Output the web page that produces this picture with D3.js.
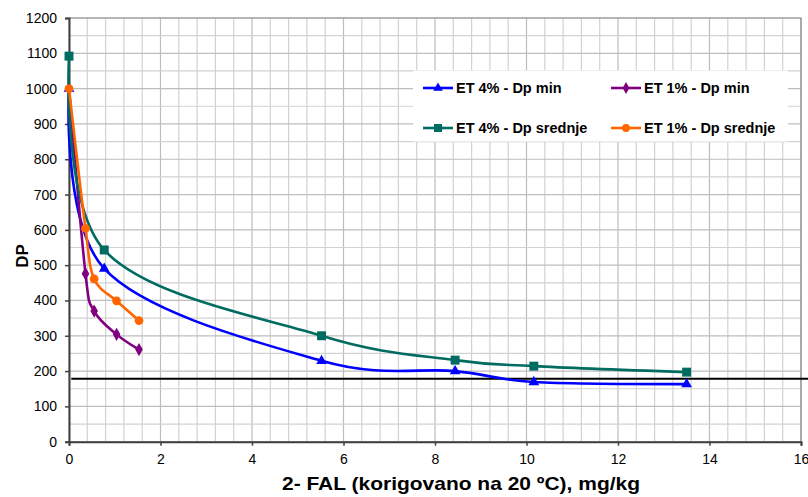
<!DOCTYPE html>
<html>
<head>
<meta charset="utf-8">
<script src="https://cdn.jsdelivr.net/npm/d3@7"></script>
<style>
  body { margin: 0; background: #fff; }
  text { font-family: "Liberation Sans", Arial, sans-serif; }
</style>
</head>
<body>
<div class="chart"></div>
<script>
// data
var xFal = [0, 0.77, 5.52, 8.44, 10.16, 13.5];
var et4Min = [1000, 490, 229, 200, 169, 163];
var et4Srednje = [1092, 543, 300, 231, 214, 197];
var xFal1 = [0, 0.36, 0.55, 1.04, 1.53];
var et1Min = [1000, 476, 370, 304, 261];
var et1Srednje = [1000, 604, 461, 399, 343];
var limitX = [0.05, 16.2];
var limitDP = 178;
var xTicks = [0, 2, 4, 6, 8, 10, 12, 14, 16];
var yTicks = [0, 100, 200, 300, 400, 500, 600, 700, 800, 900, 1000, 1100, 1200];

var series = [
  {name: "ET 4% - Dp min", x: xFal, y: et4Min, color: "#0000ff", sym: d3.symbolTriangle, size: 50},
  {name: "ET 1% - Dp min", x: xFal1, y: et1Min, color: "#800080", sym: d3.symbolDiamond, size: 50},
  {name: "ET 4% - Dp srednje", x: xFal, y: et4Srednje, color: "#006b60", sym: d3.symbolSquare, size: 80},
  {name: "ET 1% - Dp srednje", x: xFal1, y: et1Srednje, color: "#ff6600", sym: d3.symbolCircle, size: 60}
];

var width = 808, height = 497,
plotLeft = 69, plotRight = 801, plotTop = 18, plotBottom = 441.7;

var svg = d3.select(".chart").append("svg")
  .attr("width", width).attr("height", height);

var x = d3.scaleLinear().domain([0, 16]).range([plotLeft, plotRight]);
var y = d3.scaleLinear().domain([0, 1200]).range([plotBottom, plotTop]);

// grid
var g = svg.append("g");
g.selectAll(".vx").data(d3.range(0, 16.01, 0.4)).enter().append("line")
  .attr("x1", function(d){return x(d);}).attr("x2", function(d){return x(d);})
  .attr("y1", plotTop).attr("y2", plotBottom)
  .attr("stroke", function(d){return Math.abs(d/2 - Math.round(d/2)) < 1e-6 ? "#bdbdbd" : "#d2d2d2";})
  .attr("stroke-width", 1.2);
g.selectAll(".hy").data(d3.range(0, 1201, 50)).enter().append("line")
  .attr("x1", plotLeft).attr("x2", plotRight)
  .attr("y1", function(d){return y(d);}).attr("y2", function(d){return y(d);})
  .attr("stroke", function(d){return d % 100 == 0 ? "#bdbdbd" : "#d2d2d2";})
  .attr("stroke-width", 1.2);

// plot frame top / right
svg.append("path")
  .attr("d", "M" + plotLeft + "," + plotTop + "H" + plotRight + "V" + plotBottom)
  .attr("fill", "none").attr("stroke", "#8c8c8c").attr("stroke-width", 1.2);

// legend box (white, no border)
svg.append("rect").attr("x", 413).attr("y", 70.5).attr("width", 375).attr("height", 71)
  .attr("fill", "#fff");

// axes
var xAxis = svg.append("g").attr("transform", "translate(0," + plotBottom + ")")
  .call(d3.axisBottom(x).tickValues(xTicks).tickSize(4).tickPadding(8).tickFormat(d3.format("d")));
var yAxis = svg.append("g").attr("transform", "translate(" + plotLeft + ",0)")
  .call(d3.axisLeft(y).tickValues(yTicks).tickSize(4).tickPadding(8).tickFormat(d3.format("d")));
[xAxis, yAxis].forEach(function(a){
  a.select(".domain").attr("stroke", "#404040").attr("stroke-width", 2);
  a.selectAll(".tick line").attr("stroke", "#404040").attr("stroke-width", 1.5);
  a.selectAll("text").attr("font-size", 14).attr("fill", "#000")
    .style("font-family", "'Liberation Sans', Arial, sans-serif");
});

// limit line
svg.append("line")
  .attr("x1", x(limitX[0])).attr("x2", x(limitX[1]))
  .attr("y1", y(limitDP)).attr("y2", y(limitDP))
  .attr("stroke", "#000").attr("stroke-width", 2);

// series
var line = d3.line().curve(d3.curveCardinal.tension(0))
  .x(function(d){return x(d[0]);}).y(function(d){return y(d[1]);});

series.forEach(function(s){
  var pts = s.x.map(function(v, i){return [v, s.y[i]];});
  svg.append("path").datum(pts).attr("d", line)
    .attr("fill", "none").attr("stroke", s.color).attr("stroke-width", 2.6);
  svg.append("g").selectAll("path").data(pts).enter().append("path")
    .attr("transform", function(d){return "translate(" + x(d[0]) + "," + y(d[1]) + ")";})
    .attr("d", d3.symbol().type(s.sym).size(s.size))
    .attr("fill", s.color);
});

// legend
var legPos = [[423, 88], [611, 88], [423, 128], [611, 128]];
series.forEach(function(s, i){
  var p = legPos[i];
  var lg = svg.append("g").attr("transform", "translate(" + p[0] + "," + p[1] + ")");
  lg.append("line").attr("x1", 0).attr("x2", 30).attr("stroke", s.color).attr("stroke-width", 2.6);
  lg.append("path").attr("transform", "translate(15,0)")
    .attr("d", d3.symbol().type(s.sym).size(s.size * 0.8)).attr("fill", s.color);
  lg.append("text").attr("x", 33).attr("y", 5).attr("font-size", 14.5).attr("font-weight", "bold")
    .text(s.name);
});

// axis titles
svg.append("text").attr("transform", "translate(28,256) rotate(-90)")
  .attr("text-anchor", "middle").attr("font-size", 17).attr("font-weight", "bold").text("DP");
svg.append("text").attr("x", 282).attr("y", 490)
  .attr("font-size", 19).attr("font-weight", "bold")
  .attr("textLength", 358).attr("lengthAdjust", "spacingAndGlyphs")
  .text("2- FAL (korigovano na 20 ºC), mg/kg");
</script>
</body>
</html>
